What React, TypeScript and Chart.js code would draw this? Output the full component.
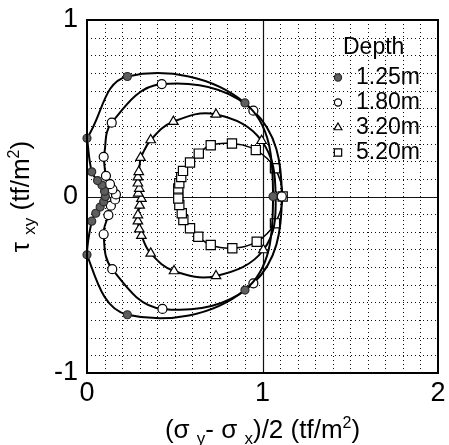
import React, { useEffect, useRef } from 'react';
import { Chart, registerables } from 'chart.js';

Chart.register(...registerables);

const FONT = '"Liberation Sans", Arial, Helvetica, sans-serif';

// Axis ticks (labelled) and the fine grid spacing
const xTicks = [0, 1, 2];
const yTicks = [-1, 0, 1];
const gridStep = 0.1;

const depthLabels = ['1.25m', '1.80m', '3.20m', '5.20m'];

// Stress paths: x = (σy - σx)/2, y = τxy, each traced as a closed loop
const x125 = [0, 0.23, 0.9, 1.06, 0.9, 0.23, 0, 0.027, 0.05, 0.075, 0.095, 0.105, 0.1, 0.085, 0.06, 0.027];
const y125 = [0.33, 0.68, 0.53, 0, -0.53, -0.67, -0.33, -0.14, -0.095, -0.06, -0.03, 0, 0.03, 0.065, 0.09, 0.14];

const x180 = [0.095, 0.141, 0.426, 0.948, 1.11, 0.948, 0.43, 0.144, 0.095, 0.122, 0.136, 0.16, 0.165, 0.145, 0.131, 0.108];
const y180 = [0.225, 0.418, 0.637, 0.486, 0, -0.492, -0.637, -0.412, -0.214, -0.105, -0.052, -0.017, 0.012, 0.04, 0.07, 0.117];

const x320 = [0.305, 0.363, 0.492, 0.735, 0.995, 1.075, 1.005, 0.735, 0.496, 0.363, 0.31, 0.298, 0.29, 0.29, 0.3, 0.31, 0.292, 0.298, 0.29, 0.29, 0.295];
const y320 = [0.22, 0.32, 0.424, 0.465, 0.316, 0, -0.303, -0.45, -0.422, -0.322, -0.222, -0.185, -0.14, -0.105, -0.05, -0.012, 0.018, 0.045, 0.075, 0.11, 0.14];

const x520 = [0.52, 0.52, 0.526, 0.537, 0.547, 0.587, 0.637, 0.705, 0.826, 0.962, 1.071, 1.115, 1.071, 0.967, 0.828, 0.705, 0.634, 0.587, 0.549, 0.54, 0.526, 0.52];
const y520 = [0.01, 0.046, 0.075, 0.11, 0.145, 0.193, 0.243, 0.29, 0.3, 0.263, 0.16, 0, -0.152, -0.256, -0.293, -0.275, -0.228, -0.18, -0.133, -0.095, -0.048, -0.012];

type Pt = { x: number; y: number };
const closedLoop = (xs: number[], ys: number[]): Pt[] =>
  [...xs, xs[0]].map((x, i) => ({ x, y: [...ys, ys[0]][i] }));

type Style = { shape: 'circle' | 'triangle' | 'rect'; fill: string; stroke: string; r: number; lineW: number };
const styles: Style[] = [
  { shape: 'circle', fill: '#5e5e5e', stroke: '#2a2a2a', r: 4, lineW: 2 },
  { shape: 'circle', fill: '#ffffff', stroke: '#000000', r: 4.5, lineW: 2 },
  { shape: 'triangle', fill: '#ffffff', stroke: '#000000', r: 5.5, lineW: 2 },
  { shape: 'rect', fill: '#ffffff', stroke: '#000000', r: 6.5, lineW: 1.5 },
];

type Part = { t: string; size: number; dy?: number };

function drawRich(ctx: CanvasRenderingContext2D, parts: Part[], cx: number, baseY: number) {
  let total = 0;
  for (const p of parts) {
    ctx.font = `${p.size}px ${FONT}`;
    total += ctx.measureText(p.t).width;
  }
  let x = cx - total / 2;
  ctx.textAlign = 'left';
  ctx.textBaseline = 'alphabetic';
  for (const p of parts) {
    ctx.font = `${p.size}px ${FONT}`;
    ctx.fillText(p.t, x, baseY + (p.dy || 0));
    x += ctx.measureText(p.t).width;
  }
}

function drawMarker(ctx: CanvasRenderingContext2D, s: Style, x: number, y: number, r: number) {
  ctx.beginPath();
  if (s.shape === 'circle') {
    ctx.arc(x, y, r, 0, Math.PI * 2);
  } else if (s.shape === 'triangle') {
    ctx.moveTo(x, y - r);
    ctx.lineTo(x + r * 0.866, y + r * 0.5);
    ctx.lineTo(x - r * 0.866, y + r * 0.5);
    ctx.closePath();
  } else {
    const h = r * Math.SQRT1_2;
    ctx.rect(x - h, y - h, 2 * h, 2 * h);
  }
  ctx.fillStyle = s.fill;
  ctx.fill();
  ctx.lineWidth = 1.2;
  ctx.strokeStyle = s.stroke;
  ctx.stroke();
}

const framePlugin = {
  id: 'frame',
  beforeDatasetsDraw(chart: any) {
    const { ctx, chartArea: a, scales } = chart;
    const xs = scales.x;
    const ys = scales.y;
    ctx.save();
    ctx.strokeStyle = '#111';
    ctx.lineWidth = 1;
    ctx.setLineDash([1, 3]);
    const nx = Math.round((xs.max - xs.min) / gridStep);
    for (let i = 1; i < nx; i++) {
      const v = Math.round((xs.min + i * gridStep) * 10) / 10;
      if (xTicks.includes(v)) continue;
      const px = Math.round(xs.getPixelForValue(v)) + 0.5;
      ctx.beginPath();
      ctx.moveTo(px, a.top);
      ctx.lineTo(px, a.bottom);
      ctx.stroke();
    }
    const ny = Math.round((ys.max - ys.min) / gridStep);
    for (let i = 1; i < ny; i++) {
      const v = Math.round((ys.min + i * gridStep) * 10) / 10;
      if (yTicks.includes(v)) continue;
      const py = Math.round(ys.getPixelForValue(v)) + 0.5;
      ctx.beginPath();
      ctx.moveTo(a.left, py);
      ctx.lineTo(a.right, py);
      ctx.stroke();
    }
    // solid lines at the interior labelled ticks
    ctx.setLineDash([]);
    ctx.lineWidth = 1.2;
    for (const v of xTicks) {
      if (v === xs.min || v === xs.max) continue;
      const px = Math.round(xs.getPixelForValue(v)) + 0.5;
      ctx.beginPath();
      ctx.moveTo(px, a.top);
      ctx.lineTo(px, a.bottom);
      ctx.stroke();
    }
    for (const v of yTicks) {
      if (v === ys.min || v === ys.max) continue;
      const py = Math.round(ys.getPixelForValue(v)) + 0.5;
      ctx.beginPath();
      ctx.moveTo(a.left, py);
      ctx.lineTo(a.right, py);
      ctx.stroke();
    }
    ctx.restore();
  },
  afterDatasetsDraw(chart: any) {
    const { ctx, chartArea: a } = chart;
    ctx.save();
    ctx.strokeStyle = '#000';
    ctx.lineWidth = 2;
    ctx.strokeRect(a.left, a.top, a.right - a.left, a.bottom - a.top);
    ctx.restore();
  },
  afterDraw(chart: any) {
    const { ctx, chartArea: a, scales } = chart;
    const xs = scales.x;
    const ys = scales.y;
    ctx.save();
    ctx.fillStyle = '#000';

    // tick labels
    ctx.font = `27px ${FONT}`;
    ctx.textAlign = 'right';
    ctx.textBaseline = 'middle';
    for (const v of yTicks) {
      ctx.fillText(String(v), a.left - 9, ys.getPixelForValue(v));
    }
    ctx.textAlign = 'center';
    for (const v of xTicks) {
      ctx.fillText(String(v), xs.getPixelForValue(v), a.bottom + 21);
    }

    // x axis title
    const cx = (a.left + a.right) / 2;
    drawRich(
      ctx,
      [
        { t: '(σ ', size: 26 },
        { t: 'y', size: 17, dy: 6 },
        { t: '- σ ', size: 26 },
        { t: 'x', size: 17, dy: 6 },
        { t: ')/2 (tf/m', size: 26 },
        { t: '2', size: 16, dy: -10 },
        { t: ')', size: 26 },
      ],
      cx,
      438
    );

    // y axis title
    ctx.save();
    ctx.translate(29, (a.top + a.bottom) / 2);
    ctx.rotate(-Math.PI / 2);
    drawRich(
      ctx,
      [
        { t: 'τ ', size: 26 },
        { t: 'xy', size: 17, dy: 6 },
        { t: ' (tf/m', size: 26 },
        { t: '2', size: 16, dy: -10 },
        { t: ')', size: 26 },
      ],
      0,
      0
    );
    ctx.restore();

    // legend
    ctx.font = `23px ${FONT}`;
    ctx.textAlign = 'left';
    ctx.textBaseline = 'middle';
    ctx.fillText('Depth', 343, 48);
    depthLabels.forEach((lab, i) => {
      const yy = 77.5 + i * 25;
      drawMarker(ctx, styles[i], 338, yy, styles[i].shape === 'rect' ? 5.2 : styles[i].shape === 'triangle' ? 4.5 : 3.6);
      ctx.fillStyle = '#000';
      ctx.font = `23px ${FONT}`;
      ctx.fillText(lab, 356, yy);
    });
    ctx.restore();
  },
};

export default function App() {
  const ref = useRef<HTMLCanvasElement | null>(null);

  useEffect(() => {
    const canvas = ref.current;
    if (!canvas) return;
    const series = [
      closedLoop(x125, y125),
      closedLoop(x180, y180),
      closedLoop(x320, y320),
      closedLoop(x520, y520),
    ];
    const chart = new Chart(canvas, {
      type: 'scatter',
      data: {
        datasets: series.map((data, i) => {
          const s = styles[i];
          const last = data.length - 1;
          return {
            label: depthLabels[i],
            data,
            showLine: true,
            tension: 0.4,
            borderColor: '#000',
            borderWidth: s.lineW,
            pointStyle: s.shape,
            pointRadius: (c: any) => (c.dataIndex === last ? 0 : s.r),
            pointHoverRadius: (c: any) => (c.dataIndex === last ? 0 : s.r),
            pointBackgroundColor: s.fill,
            pointBorderColor: s.stroke,
            pointBorderWidth: 1.2,
            clip: false as any,
          };
        }),
      },
      options: {
        animation: false,
        responsive: false,
        devicePixelRatio: 1,
        events: [],
        layout: { padding: { left: 87, top: 20, right: 11, bottom: 72 } },
        plugins: { legend: { display: false }, tooltip: { enabled: false } },
        scales: {
          x: { type: 'linear', min: 0, max: 2, display: false },
          y: { type: 'linear', min: -1, max: 1, display: false },
        },
      },
      plugins: [framePlugin],
    });
    return () => chart.destroy();
  }, []);

  return (
    <div style={{ position: 'fixed', left: 0, top: 0, width: 449, height: 445, background: '#fff' }}>
      <canvas ref={ref} width={449} height={445} style={{ display: 'block' }} />
    </div>
  );
}
